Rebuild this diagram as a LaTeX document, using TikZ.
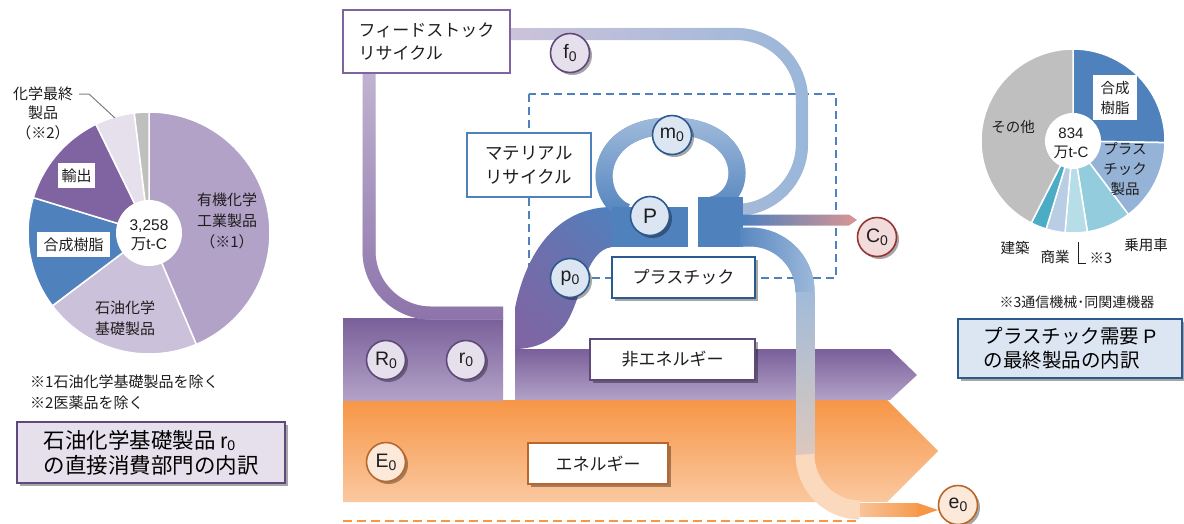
\documentclass[tikz,border=0pt]{standalone}
\usepackage{fontspec}
\setmainfont{Noto Sans CJK JP}
\newfontfamily\lat{Liberation Sans}
\usetikzlibrary{shadows,fadings,shadings}
\definecolor{pur}{HTML}{8064A2}
\definecolor{purD}{HTML}{5F497A}
\definecolor{purL}{HTML}{B3A2C7}
\definecolor{purLL}{HTML}{CCC1DA}
\definecolor{purX}{HTML}{E6E0EC}
\definecolor{blu}{HTML}{4F81BD}
\definecolor{bluD}{HTML}{2C5A8E}
\definecolor{bluL}{HTML}{95B3D7}
\definecolor{bluLL}{HTML}{B9CDE5}
\definecolor{bluX}{HTML}{DCE6F2}
\definecolor{org}{HTML}{F79646}
\definecolor{orgL}{HTML}{FAC8A0}
\definecolor{orgX}{HTML}{FDE9D9}
\definecolor{orgD}{HTML}{B9672B}
\definecolor{redD}{HTML}{943634}
\definecolor{redX}{HTML}{F2DCDB}
\definecolor{pinkc}{HTML}{D99594}
\definecolor{gry}{HTML}{BFBFBF}
\definecolor{txt}{HTML}{1E1E1E}
\definecolor{aqua}{HTML}{4BACC6}
\definecolor{aquaL}{HTML}{93CDDD}
\definecolor{aquaLL}{HTML}{B7DEE8}
\tikzfading[name=fR, left color=transparent!100, right color=transparent!0]
\tikzfading[name=fD, top color=transparent!100, bottom color=transparent!0]
\tikzfading[name=fU, top color=transparent!0, bottom color=transparent!100]
\newcommand\zsub[1]{\raisebox{-3pt}{\fontsize{14}{14}\selectfont #1}}
\newcommand\tsub[1]{\raisebox{-2.5pt}{\fontsize{14}{14}\selectfont #1}}
\newcommand\pieslice[4]{\filldraw[fill=#1, draw=white, line width=1.5pt] (0,0) -- (#2:#4) arc[start angle=#2, end angle=#3, radius=#4] -- cycle;}
\tikzset{
  shd/.style={drop shadow={opacity=.35, shadow xshift=2.5pt, shadow yshift=-2.5pt, fill=black}},
  circ/.style 2 args={circle, fill=#1, draw=#2, line width=1.6pt, minimum size=39pt, inner sep=0pt, font=\lat\fontsize{19.5}{19.5}\selectfont, text=txt, shd},
  lbox/.style={draw=#1, fill=white, line width=1.6pt, inner sep=0pt, font=\fontsize{17}{23}\selectfont, text=txt, align=left},
  pietext/.style={font=\fontsize{15}{21}\selectfont, text=txt, align=center, inner sep=1pt},
  notetext/.style={font=\fontsize{15}{20}\selectfont, text=txt, anchor=west, inner sep=0pt},
  titlebox/.style 2 args={draw=#2, fill=#1, line width=2pt, inner sep=0pt, font=\fontsize{21.5}{25}\selectfont, text=black, align=left, shd}
}
\begin{document}
\begin{tikzpicture}[x=1pt,y=-1pt]
\useasboundingbox (0,0) rectangle (1184,523);
\fill[white] (0,0) rectangle (1184,523);

%================ left pie ================
\begin{scope}[shift={(149,233)}, yscale=-1]
  \pieslice{purL}{90}{-67}{121}
  \pieslice{purLL}{-67}{-143}{121}
  \pieslice{blu}{-143}{-197}{121}
  \pieslice{pur}{-197}{-244}{121}
  \pieslice{purX}{-244}{-263}{121}
  \pieslice{gry}{-263}{-270}{121}
  \fill[white] (0,0) circle[radius=33];
\end{scope}
\node[pietext, font=\lat\fontsize{15.5}{19}\selectfont] (lc) at (149,235) {3,258\\{\fontspec{Noto Sans CJK JP}万}t-C};
\node[pietext] (l1) at (227,221) {有機化学\\工業製品\\（※1）};
\node[pietext] (l2) at (125,318) {石油化学\\基礎製品};
\node[pietext, fill=white, minimum width=37pt, minimum height=25pt, inner sep=0pt] (l3) at (76.5,175.5) {輸出};
\node[pietext, fill=white, minimum width=73pt, minimum height=25pt, inner sep=0pt] (l4) at (73.5,244.5) {合成樹脂};
\node[pietext, font=\fontsize{15}{19.5}\selectfont] (l5) at (43,113) {化学最終\\製品\\（※2）};
\coordinate (l5a) at (79,94);
\coordinate (l5b) at (89,94);
\coordinate (l5c) at (115,118);
\draw[gray, line width=1pt] (l5a) -- (l5b) -- (l5c);
\node[notetext] (n1) at (30,382) {※1石油化学基礎製品を除く};
\node[notetext] (n2) at (30,403) {※2医薬品を除く};
\node[titlebox={purX}{purD}, minimum width=268pt, minimum height=61pt] (t1) at (151,452.5)
  {石油化学基礎製品 {\lat r\tsub{0}}\\の直接消費部門の内訳};

%================ right pie ================
\begin{scope}[shift={(1073,141)}, yscale=-1]
  \pieslice{blu}{90}{-1}{92}
  \pieslice{bluL}{-1}{-53}{92}
  \pieslice{aquaL}{-53}{-81}{92}
  \pieslice{aquaLL}{-81}{-95}{92}
  \pieslice{bluLL}{-95}{-107}{92}
  \pieslice{aqua}{-107}{-117}{92}
  \pieslice{gry}{-117}{-270}{92}
  \fill[white] (0,0) circle[radius=28];
\end{scope}
\node[pietext, font=\lat\fontsize{15}{19}\selectfont] (rc) at (1071,143) {834\\{\fontspec{Noto Sans CJK JP}万}t-C};
\node[pietext, fill=white, minimum width=44pt, minimum height=45pt, inner sep=0pt, font=\fontsize{14.5}{20}\selectfont] (r1) at (1115,97.5) {合成\\樹脂};
\node[pietext, font=\fontsize{14.5}{20}\selectfont] (r2) at (1125,169) {プラス\\チック\\製品};
\node[pietext, font=\fontsize{14.5}{20}\selectfont] (r3) at (1013,127) {その他};
\node[pietext, font=\fontsize{14.5}{20}\selectfont] (r4) at (1015,248) {建築};
\node[pietext, font=\fontsize{14.5}{20}\selectfont] (r5) at (1055,257) {商業};
\node[pietext, font=\fontsize{14.5}{20}\selectfont] (r6) at (1101,258) {※3};
\node[pietext, font=\fontsize{14.5}{20}\selectfont] (r7) at (1146,245) {乗用車};
\coordinate (r6a) at (1078,242);
\coordinate (r6b) at (1078,263);
\coordinate (r6c) at (1086,263);
\draw[txt, line width=0.8pt] (r6a) -- (r6b) -- (r6c);
\node[notetext, anchor=center, font=\fontsize{14}{18}\selectfont] (n3) at (1077,302) {※3通信機械･同関連機器};
\node[titlebox={bluX}{bluD}, minimum width=224pt, minimum height=59pt, font=\fontsize{19.5}{24}\selectfont] (t2) at (1070,348.5)
  {プラスチック需要 {\lat P}\\の最終製品の内訳};

%================ centre flows ================
% material recycle dashed frame
\draw[blu, line width=2.5pt, dash pattern=on 8pt off 5pt] (529,94) rectangle (836,278);
% bottom dashed orange
\draw[org, line width=2.5pt, dash pattern=on 9pt off 5pt] (343,521) -- (860,521);

% energy band
\shade[top color=org, bottom color=orgL] (343,400) -- (887,400) -- (938,451) -- (887,502) -- (343,502) -- cycle;
% non energy band
\shade[top color=pur!95!black, bottom color=purL] (515,349) -- (890,349) -- (917,375) -- (890,400) -- (515,400) -- cycle;
% R0 block
\shade[top color=pur!95!black, bottom color=purL] (343,318) rectangle (503,400);
% p0 curve
\shade[upper left=pur!60!blu, upper right=blu, lower left=pur, lower right=pur!85!blu]
  (515,349) -- (515,308) .. controls (530,235) and (570,207) .. (612,207) -- (612,247)
  .. controls (585,250) and (582,300) .. (565,325) .. controls (550,343) and (535,348) .. (517,349) -- cycle;

% feedstock band (left, down)
\draw[line width=13pt, color=purL!80!white, rounded corners=62pt] (369,73) -- (369,313) -- (503,313);
\draw[line width=13pt, color=pur!90!white, rounded corners=62pt, path fading=fD] (369,73) -- (369,313) -- (503,313);
% f0 band (top, right)
\draw[line width=12pt, color=purL!65!white, rounded corners=66pt] (510,34) -- (802,34) -- (802,210) -- (735,210);
\draw[line width=12pt, color=bluL!95!white, rounded corners=66pt, path fading=fR] (510,34) -- (802,34) -- (802,210) -- (735,210);

% m0 loop
\draw[line width=17pt, color=blu] (626,212) .. controls (590,196) and (594,126) .. (671,126) .. controls (748,126) and (752,196) .. (712,205);
\draw[line width=17pt, color=bluL!90!white, path fading=fU] (626,212) .. controls (590,196) and (594,126) .. (671,126) .. controls (748,126) and (752,196) .. (712,205);

% P blocks
\fill[blu] (612,207) rectangle (688,247);
\fill[blu] (698,197) rectangle (743,247);

% C0 arrow
\shade[left color=blu, right color=pinkc] (743,214.5) -- (849,214.5) -- (857,220) -- (849,225.5) -- (743,225.5) -- cycle;

% e0 band
\draw[line width=19pt, color=blu] (740,237) -- (750,237) .. controls (780.4,237) and (805,261.6) .. (805,292);
\draw[line width=19pt, color=blu!55!white, path fading=fR] (740,237) -- (750,237) .. controls (780.4,237) and (805,261.6) .. (805,292);
\draw[line width=19pt, color=blu!55!white] (805,291.5) -- (805,455);
\draw[line width=19pt, color=orgL!60!bluLL, path fading=fD] (805,291.5) -- (805,455);
\draw[line width=19pt, color=orgL!70!white] (805,454.5) .. controls (805,485.4) and (829.6,510) .. (860,510);
\draw[line width=14pt, color=orgL] (859.5,510) -- (918,510);
\draw[line width=14pt, color=org, path fading=fR] (859.5,510) -- (918,510);
\fill[org] (917.5,503) -- (938,510) -- (917.5,517) -- cycle;

% ---- boxes ----
\node[lbox=pur, minimum width=167pt, minimum height=63pt] (fb) at (426.5,41.5) {フィードストック\\リサイクル};
\node[lbox=blu, minimum width=124pt, minimum height=64pt, font=\fontsize{17.5}{24}\selectfont] (mb) at (529,165) {マテリアル\\リサイクル};
\node[lbox=bluD, minimum width=143pt, minimum height=41pt, shd] (pb) at (683.5,277.5) {プラスチック};
\node[lbox=purD, minimum width=165pt, minimum height=41pt, shd] (nb) at (672.5,359.5) {非エネルギー};
\node[lbox=orgD, minimum width=140pt, minimum height=41pt, shd] (eb) at (598,463.5) {エネルギー};

% ---- circles ----
\node[circ={purX}{purD}] (f0) at (570,53) {f\zsub{0}};
\node[circ={bluX}{bluD}] (m0) at (672,135) {m\zsub{0}};
\node[circ={bluX}{bluD}, font=\lat\fontsize{21}{21}\selectfont] (P) at (650,216) {P};
\node[circ={bluX}{bluD}] (p0) at (570,278) {p\zsub{0}};
\node[circ={redX}{redD}] (C0) at (877,237) {C\zsub{0}};
\node[circ={purX}{purD}] (R0) at (386,360) {R\zsub{0}};
\node[circ={purX}{purD}] (r0) at (466,360) {r\zsub{0}};
\node[circ={orgX}{orgD}] (E0) at (386,462) {E\zsub{0}};
\node[circ={orgX}{orgD}] (e0) at (958,505) {e\zsub{0}};
\end{tikzpicture}
\end{document}
